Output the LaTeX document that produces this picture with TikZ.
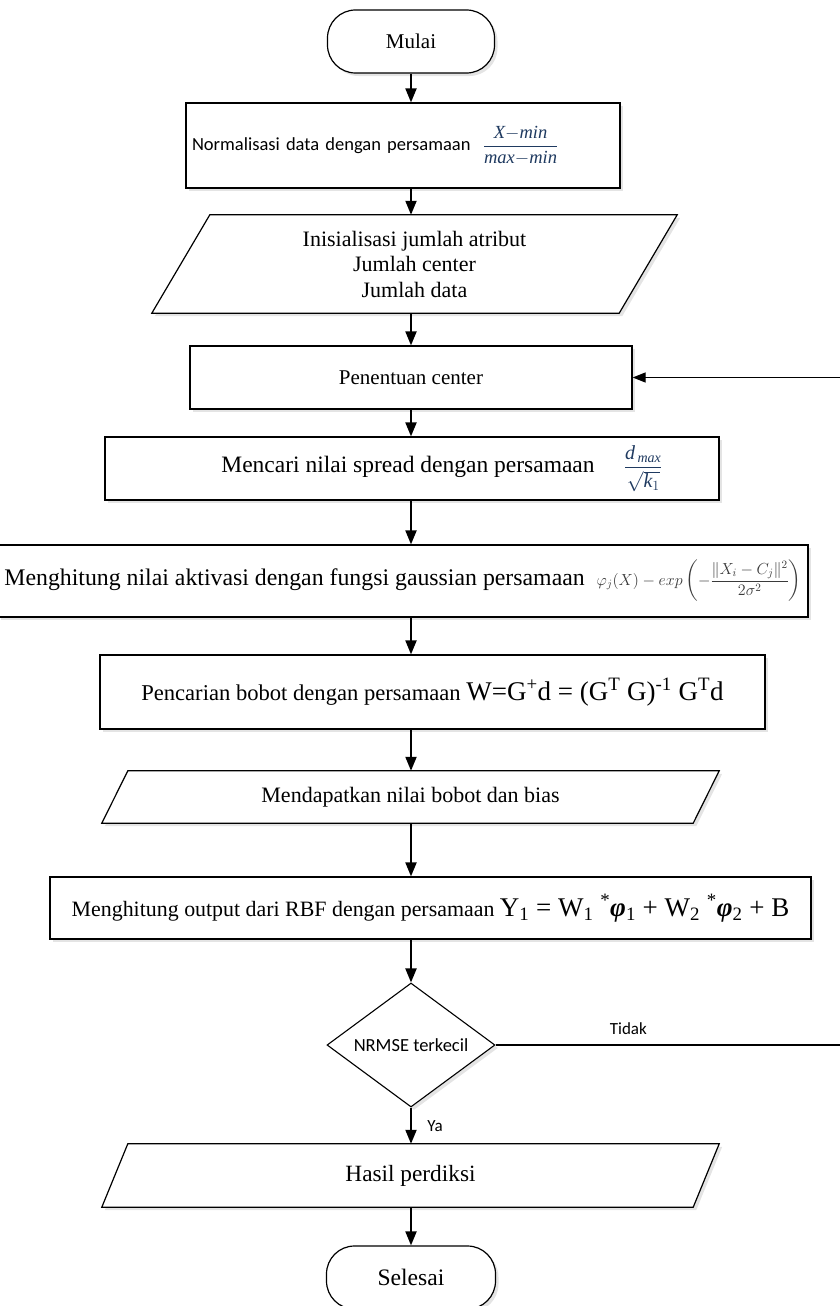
\RequirePackage{fix-cm}
\documentclass[tikz,border=0pt]{standalone}
\usepackage{amsmath}
\usepackage{fontspec}
\setmainfont{Liberation Serif}
\newfontfamily\calibri{Carlito}
\usetikzlibrary{shapes.geometric,arrows.meta,calc,shadows}
\definecolor{EqBlue}{HTML}{1F3A60}
\definecolor{EqGray}{HTML}{3A3A3A}
\definecolor{ShadowGray}{HTML}{E4E4E4}

\begin{document}
\begin{tikzpicture}[x=1pt,y=-1pt,
  box/.style={draw,fill=white,line width=1.2pt,inner sep=0pt,align=center,
    drop shadow={shadow xshift=3pt,shadow yshift=-3pt,fill=ShadowGray,opacity=1}},
  term/.style={box,rounded corners=28pt},
  io/.style={inner sep=0pt,align=center},
  ioline/.style={draw,fill=white,line width=1.2pt},
  arr/.style={line width=2pt,-{Triangle[width=11pt,length=14pt]}},
  fb/.style={line width=1.2pt,-{Triangle[width=10pt,length=13pt]}}]
\path[use as bounding box] (0,0) rectangle (840,1306);
% steps
\node[term,minimum width=167pt,minimum height=63pt,font=\fontsize{21}{25}\selectfont] (mulai) at (411,41.5) {Mulai};
\node[box,minimum width=434pt,minimum height=85pt,text width=422pt,align=left,font=\calibri\fontsize{18.5}{22}\selectfont] (norm) at (403,145.5) {Normalisasi data dengan persamaan \ \textcolor{EqBlue}{$\dfrac{\mathit{X}{-}\mathit{min}}{\mathit{max}{-}\mathit{min}}$}};
\node[io,minimum width=467pt,minimum height=98pt] (init) at (414.5,264) {};
\fill[ShadowGray] ($(init.north west)+(32,3)$) -- ($(init.north east)+(32,3)$) -- ($(init.south east)+(-26,3)$) -- ($(init.south west)+(-26,3)$) -- cycle;
\path[ioline] ($(init.north west)+(29,0)$) -- ($(init.north east)+(29,0)$) -- ($(init.south east)-(29,0)$) -- ($(init.south west)-(29,0)$) -- cycle;
\node[io,font=\fontsize{22}{25.5}\selectfont] (initlbl) at (init) {Inisialisasi jumlah atribut\\Jumlah center\\Jumlah data};
\node[box,minimum width=442pt,minimum height=63pt,font=\fontsize{21}{25}\selectfont] (pen) at (411,377.5) {Penentuan center};
\node[box,minimum width=614pt,minimum height=63pt,font=\fontsize{23.5}{28}\selectfont] (spread) at (412,468.5) {\hspace{60pt}Mencari nilai spread dengan persamaan \quad \textcolor{EqBlue}{\fontsize{20}{24}\selectfont$\dfrac{\mathit{d}_{\,\mathit{max}}}{\sqrt{\mathit{k}_1}}$}};
\node[box,minimum width=810pt,minimum height=72pt,font=\fontsize{23.8}{28}\selectfont] (aktiv) at (403,581) {Menghitung nilai aktivasi dengan fungsi gaussian persamaan \ \textcolor{EqGray}{\fontsize{16}{19}\selectfont$\varphi_j(X) - exp\left(-\dfrac{\|X_i - C_j\|^2}{2\sigma^2}\right)$}};
\node[box,minimum width=665pt,minimum height=74pt,font=\fontsize{22.6}{27}\selectfont] (pencari) at (432.5,692) {Pencarian bobot dengan persamaan {\fontsize{27}{30}\selectfont W=G\textsuperscript{+}d = (G\textsuperscript{T} G)\textsuperscript{-1} G\textsuperscript{T}d}};
\node[io,minimum width=591pt,minimum height=52pt] (dapat) at (410.5,797) {};
\fill[ShadowGray] ($(dapat.north west)+(16,3)$) -- ($(dapat.north east)+(16,3)$) -- ($(dapat.south east)+(-10,3)$) -- ($(dapat.south west)+(-10,3)$) -- cycle;
\path[ioline] ($(dapat.north west)+(13,0)$) -- ($(dapat.north east)+(13,0)$) -- ($(dapat.south east)-(13,0)$) -- ($(dapat.south west)-(13,0)$) -- cycle;
\node[io,font=\fontsize{22}{26}\selectfont] (dapatlbl) at (dapat) {Mendapatkan nilai bobot dan bias};
\node[box,minimum width=761pt,minimum height=62pt,font=\fontsize{21.9}{26}\selectfont] (output) at (430.5,908) {Menghitung output dari RBF dengan persamaan {\fontsize{27}{30}\selectfont Y\textsubscript{1} = W\textsubscript{1} \textsuperscript{*}\textbf{\textit{φ}}\textsubscript{1} + W\textsubscript{2} \textsuperscript{*}\textbf{\textit{φ}}\textsubscript{2} + B}};
\node[draw,fill=white,diamond,aspect=1.35,minimum width=168pt,minimum height=124pt,inner sep=0pt,line width=1.1pt,
  drop shadow={shadow xshift=3pt,shadow yshift=-3pt,fill=ShadowGray,opacity=1},
  font=\calibri\fontsize{18.5}{22}\selectfont] (nrmse) at (411,1045) {NRMSE terkecil};
\node[io,minimum width=591pt,minimum height=63pt] (hasil) at (410.5,1175.5) {};
\fill[ShadowGray] ($(hasil.north west)+(16,3)$) -- ($(hasil.north east)+(16,3)$) -- ($(hasil.south east)+(-10,3)$) -- ($(hasil.south west)+(-10,3)$) -- cycle;
\path[ioline] ($(hasil.north west)+(13,0)$) -- ($(hasil.north east)+(13,0)$) -- ($(hasil.south east)-(13,0)$) -- ($(hasil.south west)-(13,0)$) -- cycle;
\node[io,font=\fontsize{23.3}{27}\selectfont] (hasillbl) at (hasil) {Hasil perdiksi};
\node[term,minimum width=169pt,minimum height=63pt,font=\fontsize{23.6}{27}\selectfont] (selesai) at (411,1277.5) {Selesai};
\coordinate (loop) at (845,1045);
% flow
\draw[arr] (mulai.south) -- (norm.north -| mulai.south);
\draw[arr] (norm.south -| mulai.south) -- (init.north -| mulai.south);
\draw[arr] (init.south -| mulai.south) -- (pen.north -| mulai.south);
\draw[arr] (pen.south -| mulai.south) -- (spread.north -| mulai.south);
\draw[arr] (spread.south -| mulai.south) -- (aktiv.north -| mulai.south);
\draw[arr] (aktiv.south -| mulai.south) -- (pencari.north -| mulai.south);
\draw[arr] (pencari.south -| mulai.south) -- (dapat.north -| mulai.south);
\draw[arr] (dapat.south -| mulai.south) -- (output.north -| mulai.south);
\draw[arr] (output.south -| mulai.south) -- (nrmse.north);
\draw[arr] (nrmse.south) -- node[right=12pt,font=\calibri\fontsize{17}{20}\selectfont] (ya) {Ya} (hasil.north -| nrmse.south);
\draw[arr] (hasil.south -| mulai.south) -- (selesai.north);
\draw[fb] (nrmse.east) -- node[above=6pt,pos=0.38,font=\calibri\fontsize{17}{20}\selectfont] (tidak) {Tidak} (loop) |- (pen.east);
\end{tikzpicture}
\end{document}
